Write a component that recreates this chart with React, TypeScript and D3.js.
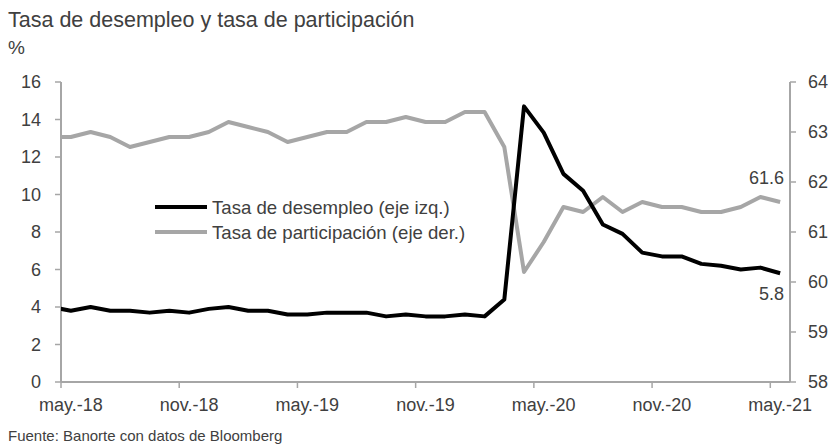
import * as d3 from "d3";

// abr.-18 ... may.-21 (the first point sits just left of the plot and is clipped)
const unemployment = [
  4.0, 3.8, 4.0, 3.8, 3.8, 3.7, 3.8, 3.7, 3.9, 4.0, 3.8, 3.8, 3.6, 3.6, 3.7,
  3.7, 3.7, 3.5, 3.6, 3.5, 3.5, 3.6, 3.5, 4.4, 14.7, 13.3, 11.1, 10.2, 8.4,
  7.9, 6.9, 6.7, 6.7, 6.3, 6.2, 6.0, 6.1, 5.8,
];
const participation = [
  62.9, 62.9, 63.0, 62.9, 62.7, 62.8, 62.9, 62.9, 63.0, 63.2, 63.1, 63.0, 62.8,
  62.9, 63.0, 63.0, 63.2, 63.2, 63.3, 63.2, 63.2, 63.4, 63.4, 62.7, 60.2, 60.8,
  61.5, 61.4, 61.7, 61.4, 61.6, 61.5, 61.5, 61.4, 61.4, 61.5, 61.7, 61.6,
];
const tickLabels = ["may.-18", "nov.-18", "may.-19", "nov.-19", "may.-20", "nov.-20", "may.-21"];
const leftTicks = [0, 2, 4, 6, 8, 10, 12, 14, 16];
const rightTicks = [58, 59, 60, 61, 62, 63, 64];

const W = 830;
const H = 448;
const font = "'Liberation Sans', Arial, sans-serif";
const textCol = "#404040";
const axisCol = "#a6a6a6";

export default function App() {
  const left = 61;
  const right = 790;
  const top = 82;
  const bottom = 382;

  // month index: 0 = may.-18, -1 = abr.-18
  const x = d3.scaleLinear().domain([-0.5, 36.5]).range([left, right]);
  const yL = d3.scaleLinear().domain([0, 16]).range([bottom, top]);
  const yR = d3.scaleLinear().domain([58, 64]).range([bottom, top]);

  const lineL = d3
    .line<number>()
    .x((_, i) => x(i - 1))
    .y((d) => yL(d));
  const lineR = d3
    .line<number>()
    .x((_, i) => x(i - 1))
    .y((d) => yR(d));

  const last = unemployment.length - 2;
  const lastU = unemployment[unemployment.length - 1];
  const lastP = participation[participation.length - 1];

  return (
    <svg
      width={W}
      height={H}
      style={{ position: "absolute", left: 0, top: 0, background: "#fff" }}
      fontFamily={font}
    >
      <defs>
        <clipPath id="plot">
          <rect x={left} y={top - 10} width={right - left} height={bottom - top + 10} />
        </clipPath>
      </defs>
      <text x={8} y={27} fontSize={21.5} fill={textCol}>
        Tasa de desempleo y tasa de participación
      </text>
      <text x={8} y={54} fontSize={19} fill={textCol}>
        %
      </text>

      {/* left axis */}
      <line x1={left} x2={left} y1={top} y2={bottom} stroke={axisCol} strokeWidth={2} />
      {leftTicks.map((t) => (
        <g key={t}>
          <line x1={left - 6} x2={left} y1={yL(t)} y2={yL(t)} stroke={axisCol} strokeWidth={1.5} />
          <text x={41} y={yL(t)} dy="0.35em" textAnchor="end" fontSize={18} fill={textCol}>
            {t}
          </text>
        </g>
      ))}

      {/* right axis */}
      <line x1={right} x2={right} y1={top} y2={bottom} stroke={axisCol} strokeWidth={2} />
      {rightTicks.map((t) => (
        <g key={t}>
          <line x1={right} x2={right + 6} y1={yR(t)} y2={yR(t)} stroke={axisCol} strokeWidth={1.5} />
          <text x={808} y={yR(t)} dy="0.35em" fontSize={18} fill={textCol}>
            {t}
          </text>
        </g>
      ))}

      {/* x axis: ticks on month boundaries, labels centred on the month */}
      <line x1={left} x2={right} y1={bottom} y2={bottom} stroke={axisCol} strokeWidth={2} />
      {tickLabels.map((lab, k) => (
        <g key={lab}>
          <line
            x1={x(k * 6 - 0.5)}
            x2={x(k * 6 - 0.5)}
            y1={bottom}
            y2={bottom + 6}
            stroke={axisCol}
            strokeWidth={1.5}
          />
          <text x={x(k * 6)} y={411} textAnchor="middle" fontSize={18} fill={textCol}>
            {lab}
          </text>
        </g>
      ))}

      <g clipPath="url(#plot)" fill="none" strokeLinejoin="round">
        <path d={lineR(participation) ?? ""} stroke="#a6a6a6" strokeWidth={4} />
        <path d={lineL(unemployment) ?? ""} stroke="#000" strokeWidth={4} />
      </g>

      {/* end labels */}
      <text x={x(last) + 4} y={yR(lastP) - 18} textAnchor="end" fontSize={18} fill={textCol}>
        {lastP.toFixed(1)}
      </text>
      <text x={x(last) + 4} y={yL(lastU) + 27} textAnchor="end" fontSize={18} fill={textCol}>
        {lastU.toFixed(1)}
      </text>

      {/* legend */}
      <line x1={155} x2={207} y1={207} y2={207} stroke="#000" strokeWidth={4} />
      <text x={212} y={207} dy="0.35em" fontSize={18.6} fill={textCol}>
        Tasa de desempleo (eje izq.)
      </text>
      <line x1={155} x2={207} y1={232} y2={232} stroke="#a6a6a6" strokeWidth={4} />
      <text x={212} y={232} dy="0.35em" fontSize={18.6} fill={textCol}>
        Tasa de participación (eje der.)
      </text>

      <text x={8} y={441} fontSize={15} fill={textCol}>
        Fuente: Banorte con datos de Bloomberg
      </text>
    </svg>
  );
}
